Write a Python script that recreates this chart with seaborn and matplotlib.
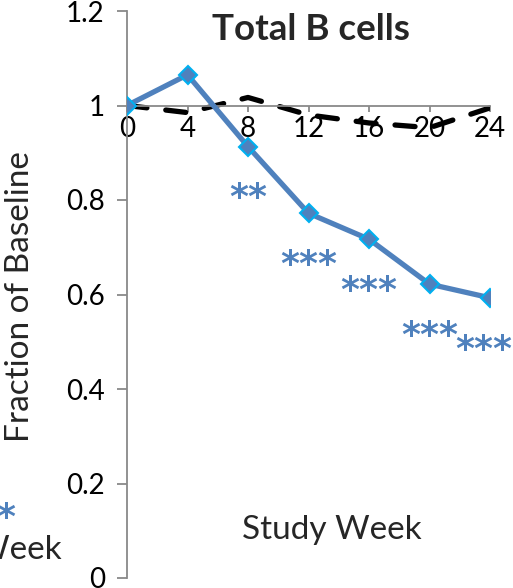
import numpy as np
import pandas as pd
import matplotlib
matplotlib.use("Agg")
import matplotlib.pyplot as plt
import seaborn as sns

# ---- data ----
weeks = [0, 4, 8, 12, 16, 20, 24]
treated = [1.0, 1.065, 0.913, 0.772, 0.717, 0.622, 0.593]
control = [1.0, 0.985, 1.017, 0.98, 0.963, 0.953, 0.995]
sig_weeks = [8, 12, 16, 20, 24]
sig_labels = ["**", "***", "***", "***", "***"]
y_ticks = [0, 0.2, 0.4, 0.6, 0.8, 1.0, 1.2]
y_tick_labels = ["0", "0.2", "0.4", "0.6", "0.8", "1", "1.2"]
title = "Total B cells"
ylabel = "Fraction of Baseline"
xlabel = "Study Week"

sns.set_theme(style="white")
plt.rcParams["font.family"] = ["Lato", "DejaVu Sans"]

BLUE = "#4F81BD"
EDGE = "#00B0F0"
GRAY = "#898989"

fig = plt.figure(figsize=(5.13, 5.88), dpi=100)
ax = fig.add_axes([127 / 513, 1 - 578 / 588, (490 - 127) / 513, (578 - 11) / 588])

df_t = pd.DataFrame({"week": weeks, "value": treated})
df_c = pd.DataFrame({"week": weeks, "value": control})

sns.lineplot(data=df_c, x="week", y="value", ax=ax, color="black", lw=3.8,
             linestyle=(0, (3.8, 3.6)), dash_capstyle="round", zorder=2)
sns.lineplot(data=df_t, x="week", y="value", ax=ax, color=BLUE, lw=3.8,
             marker="D", markersize=9.5, markerfacecolor=BLUE,
             markeredgecolor=EDGE, markeredgewidth=1.5, zorder=3)

# significance marks
tvals = dict(zip(weeks, treated))
for i, (w, lab) in enumerate(zip(sig_weeks, sig_labels)):
    dx = -6 if i == len(sig_weeks) - 1 else 0
    ax.annotate(lab, xy=(w, tvals[w]), xytext=(dx * 0.72, -44.5),
                textcoords="offset points", ha="center", va="baseline",
                fontsize=26, fontweight="bold", color=BLUE,
                family="DejaVu Sans", annotation_clip=False)

ax.set_xlim(0, 24)
ax.set_ylim(0, 1.2)
ax.set_xticks(weeks)
ax.set_xticklabels([str(w) for w in weeks])
ax.set_yticks(y_ticks)
ax.set_yticklabels(y_tick_labels)

for s in ["top", "right"]:
    ax.spines[s].set_visible(False)
ax.spines["bottom"].set_position(("data", 1.0))
for s in ["left", "bottom"]:
    ax.spines[s].set_color(GRAY)
    ax.spines[s].set_linewidth(1.3)

ax.tick_params(axis="y", which="major", left=True, length=7, width=1.3,
               color=GRAY, labelsize=20, pad=9, labelcolor="black")
ax.tick_params(axis="x", which="major", bottom=True, length=4.5, width=1.3,
               color=GRAY, labelsize=20, pad=3, labelcolor="black")
ax.set_xlabel("")
ax.set_ylabel(ylabel, fontsize=24)
ax.yaxis.set_label_coords((35 - 127) / 363, (578 - 297) / 567)

ax.text((311 - 127) / 363, (578 - 30) / 567, title, transform=ax.transAxes,
        ha="center", va="center", fontsize=26.5, fontweight="bold")
ax.text((332 - 127) / 363, (578 - 530) / 567, xlabel, transform=ax.transAxes,
        ha="center", va="center", fontsize=24)

# fragments of the neighbouring panel
fig.text(62 / 513, 1 - 550 / 588, xlabel, ha="right", va="center", fontsize=24)
fig.text(16 / 513, 1 - 528 / 588, "***", ha="right", va="baseline",
         fontsize=26, fontweight="bold", color=BLUE, family="DejaVu Sans")

ax.set_facecolor("white")
fig.patch.set_facecolor("white")
fig.savefig("out.png", dpi=100)
